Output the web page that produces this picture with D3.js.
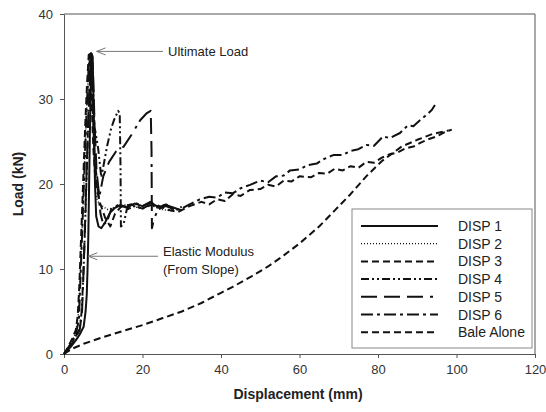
<!DOCTYPE html>
<html><head><meta charset="utf-8">
<script src="https://cdn.jsdelivr.net/npm/d3@7"></script>
<style>body{margin:0;background:#fff}svg{display:block}text{font-family:"Liberation Sans",Arial,sans-serif}</style>
</head><body><div id="chart"></div>
<script>
const xTicks = [0, 20, 40, 60, 80, 100, 120];
const yTicks = [0, 10, 20, 30, 40];
const seriesNames = ["DISP 1", "DISP 2", "DISP 3", "DISP 4", "DISP 5", "DISP 6", "Bale Alone"];

const disp1 = [[0,0],[1,0.5],[2,1.0],[3,1.6],[4,2.3],[5,3.2],[5.5,5],[5.8,7],[6.0,10],[6.2,14],[6.4,20],[6.6,26],[6.8,31],[7.0,35.3],[7.3,35.0],[7.6,28],[7.9,20],[8.2,16.2],[8.8,15.0],[9.5,14.8],[10.5,15.5],[11.7,16.6],[13,17.2],[14.3,17.5],[16,17.3],[18,17.7],[20,17.4],[22,17.8],[24,17.3],[26,17.5],[28,17.2],[30,16.9]];
const disp2 = [[0,0],[1,0.7],[2,1.5],[3,2.5],[3.6,4.5],[4.0,8],[4.4,12],[4.8,17],[5.2,22],[5.6,27],[6.0,31],[6.4,35.0],[6.8,34.5],[7.2,30],[7.6,24],[8,19],[8.5,18],[9.5,17.5],[11,17],[13,17.3],[16,17.6],[19,17.2],[22,17.5],[25,17],[28,16.8]];
const disp3 = [[0,0],[1,0.8],[2,1.7],[3,2.8],[3.5,4.5],[3.9,8],[4.3,13],[4.7,18],[5.1,23],[5.5,28],[5.9,32],[6.3,35.2],[6.7,34],[7.1,29],[7.5,24],[8,20.5],[9,18],[10.5,16],[11.8,15.0],[13,16.5],[14.5,17.3],[17,17.6],[20,17.1],[23,17.7],[26,17.0],[29,16.7],[32,17.4],[35,17.9],[37,17.6],[39,18.2],[41,18.0],[43,18.8],[45,18.6],[47.4,19.3],[50,19.4],[52,19.9],[54,19.7],[56,20.4],[58,20.3],[60,20.9],[63,20.8],[65,21.3],[67,21.2],[69,21.8],[71,21.6],[73,22.1],[75,21.9],[77,22.6],[79,22.5],[81,23.1],[83,23.5],[85,23.7],[87,24.2],[89,24.4],[91,24.9],[93,25.3],[95,25.6],[97,26.1],[98.8,26.4]];
const disp4 = [[0,0],[1,0.6],[2,1.3],[3,2.1],[4,3.0],[4.5,5],[4.9,9],[5.3,14],[5.7,20],[6.1,26],[6.5,31],[6.9,35.4],[7.2,34.8],[7.5,30],[7.8,26.7],[8.7,24.2],[9.5,20.8],[10.0,22],[11.0,24.5],[12.0,26.5],[12.8,27.6],[13.8,28.6],[14.2,28.3],[14.4,22],[14.5,15.0],[15.2,15.3],[16,17],[18,17.4],[20,17.1],[22,17.6],[24,17.2],[26,17.4],[28,17.0]];
const disp5 = [[0,0],[1,0.6],[2,1.2],[3,2.0],[4,2.8],[4.6,5],[5.0,10],[5.4,16],[5.8,22],[6.2,28],[6.6,33],[7.0,35.5],[7.4,33],[7.8,27],[8.3,21.5],[9,18.5],[10,20.9],[11.5,22.6],[13.2,23.8],[15.2,24.4],[17.2,25.8],[19.4,27.5],[21,28.3],[22.1,28.6],[22.3,24],[22.4,14.8],[23,16],[24,17],[26,17.5],[28,17.1],[30,17.3]];
const disp6 = [[0,0],[1,0.7],[2,1.4],[3,2.3],[3.8,4],[4.2,9],[4.6,14],[5.0,19],[5.4,24],[5.8,29],[6.2,33],[6.6,35.3],[7.0,34],[7.4,28],[7.8,23],[8.5,20],[9.3,16.5],[10,15.2],[11,15.6],[12,17],[14,17.6],[16,17.2],[18,17.8],[20,17.4],[22,17.9],[24,17.3],[26,17.6],[28,16.9],[30,17.1],[32,17.6],[34.6,18.2],[37,18.5],[39,18.4],[41,19.0],[43,18.9],[45,19.5],[47.4,19.9],[50,20.4],[52,20.2],[54,20.9],[56,21.0],[57.6,21.6],[60,21.7],[62,22.2],[64.4,22.4],[66,22.9],[68.6,23.4],[71,23.4],[73,23.9],[75,24.1],[77,24.6],[79,24.5],[81.3,25.6],[83,25.4],[85.6,26.0],[87.6,26.9],[89,26.8],[90.7,27.5],[92,28.0],[93.7,28.7],[94.5,29.3]];
const baleAlone = [[0,0],[2,0.6],[5,1.2],[10,2.0],[15,2.7],[20,3.4],[25,4.2],[30,5.0],[35,6.0],[40,7.2],[43,7.9],[48,9.2],[52,10.3],[56,11.6],[60,13.0],[65,15.0],[69,16.9],[73,18.8],[77,20.9],[81,22.7],[86,24.4],[90,25.2],[94,25.9],[98,26.3]];

const seriesData = [disp1, disp2, disp3, disp4, disp5, disp6, baleAlone];
const dashes = [null, "1,2", "7,4", "8,3,2,3,2,3", "16,7,16,7,16,7,3,5", "12,4,3,4", "7,4"];
const widths = [2, 1.4, 2, 2, 2, 2, 2];

const W = 546, H = 412;
const m = {left: 64, right: 11, top: 14, bottom: 58};
const svg = d3.select("#chart").append("svg").attr("width", W).attr("height", H);
const x = d3.scaleLinear().domain([0, 120]).range([m.left, W - m.right]);
const y = d3.scaleLinear().domain([0, 40]).range([H - m.bottom, m.top]);
const axisCol = "#555";

// frame
svg.append("line").attr("x1", x(0)).attr("x2", x(120)).attr("y1", y(40)).attr("y2", y(40)).attr("stroke", axisCol);
svg.append("line").attr("x1", x(120)).attr("x2", x(120)).attr("y1", y(0)).attr("y2", y(40)).attr("stroke", axisCol);

const gx = svg.append("g").attr("transform", `translate(0,${y(0)})`)
  .call(d3.axisBottom(x).tickValues(xTicks).tickSize(4).tickPadding(7).tickSizeOuter(0));
const gy = svg.append("g").attr("transform", `translate(${x(0)},0)`)
  .call(d3.axisLeft(y).tickValues(yTicks).tickSize(4).tickPadding(7).tickSizeOuter(0));
[gx, gy].forEach(g => {
  g.selectAll("path,line").attr("stroke", axisCol);
  g.selectAll("text").attr("fill", "#333").style("font-size", "13px").style("font-family", '"Liberation Sans",Arial,sans-serif');
});

svg.append("text").attr("x", 298).attr("y", 399).attr("text-anchor", "middle")
  .style("font-size", "14px").style("font-weight", "bold").attr("fill", "#222").text("Displacement (mm)");
svg.append("text").attr("transform", `translate(23,${y(20)}) rotate(-90)`).attr("text-anchor", "middle")
  .style("font-size", "14px").style("font-weight", "bold").attr("fill", "#222").text("Load (kN)");

const line = d3.line().x(d => x(d[0])).y(d => y(d[1]));
const plot = svg.append("g");
seriesData.forEach((s, i) => {
  plot.append("path").attr("d", line(s)).attr("fill", "none").attr("stroke", "#111")
    .attr("stroke-width", widths[i]).attr("stroke-dasharray", dashes[i]).attr("stroke-linejoin", "round");
});

// annotations
function arrow(x1, y1, x2, y2) {
  svg.append("line").attr("x1", x1).attr("y1", y1).attr("x2", x2).attr("y2", y2).attr("stroke", "#777").attr("stroke-width", 1);
  svg.append("path").attr("d", `M${x2 + 9},${y2 - 3.5}L${x2},${y2}L${x2 + 9},${y2 + 3.5}`).attr("fill", "none").attr("stroke", "#777").attr("stroke-width", 1);
}
arrow(163, y(35.6), x(8.3), y(35.6));
svg.append("text").attr("x", 168).attr("y", y(35.6) + 4.5).style("font-size", "13px").attr("fill", "#222").text("Ultimate Load");
arrow(158, y(11.5), x(6.2), y(11.5));
svg.append("text").attr("x", 163).attr("y", 256).style("font-size", "13px").attr("fill", "#222").text("Elastic Modulus");
svg.append("text").attr("x", 163).attr("y", 274).style("font-size", "13px").attr("fill", "#222").text("(From Slope)");

// legend
const lg = svg.append("g");
lg.append("rect").attr("x", 352).attr("y", 209).attr("width", 180).attr("height", 139)
  .attr("fill", "#fff").attr("stroke", "#888").attr("stroke-width", 1);
seriesNames.forEach((n, i) => {
  const yy = 226 + i * 17.7;
  lg.append("line").attr("x1", 361).attr("x2", 438).attr("y1", yy).attr("y2", yy)
    .attr("stroke", "#111").attr("stroke-width", i === 1 ? 1.3 : 2).attr("stroke-dasharray", dashes[i]);
  lg.append("text").attr("x", 458).attr("y", yy + 5).style("font-size", "14px").attr("fill", "#222").text(n);
});
</script></body></html>
